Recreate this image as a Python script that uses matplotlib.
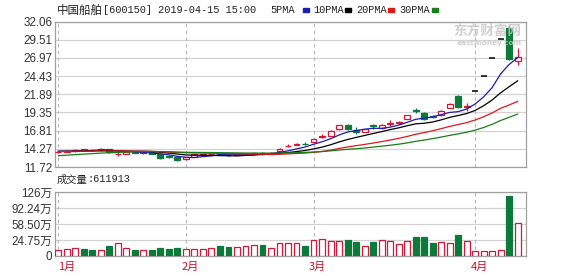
import matplotlib
matplotlib.use("Agg")
import matplotlib.pyplot as plt
import matplotlib.transforms as mtransforms
from matplotlib.patches import Rectangle
import numpy as np
import pandas as pd

# daily bars shown on the chart (Jan 2019 .. 2019-04-15), one per trading day
open_ = [13.75, 13.85, 13.90, 14.20, 14.15, 14.05, 14.25, 13.55, 13.60, 13.85,
         13.70, 13.75, 13.50, 13.20, 13.15, 12.80, 13.10, 13.45, 13.50, 13.60,
         13.45, 13.40, 13.50, 13.55, 13.65, 13.60, 14.00, 14.60, 14.85, 14.98,
         15.25, 15.95, 16.05, 17.00, 17.60, 16.88, 16.65, 17.55, 17.15, 17.80,
         17.90, 18.50, 19.65, 19.20, 18.80, 19.00, 19.95, 21.65, 20.15, 22.28,
         24.51, 26.96, 29.66, 31.20, 26.55]
high = [13.95, 14.05, 14.25, 14.30, 14.25, 14.40, 14.30, 13.75, 13.90, 13.90,
        13.85, 13.80, 13.55, 13.35, 13.20, 13.10, 13.55, 13.60, 13.65, 13.65,
        13.50, 13.55, 13.65, 13.85, 13.80, 13.75, 14.35, 14.95, 15.10, 15.15,
        15.65, 16.35, 16.85, 17.65, 17.70, 17.25, 17.10, 17.80, 17.70, 18.30,
        18.15, 19.05, 19.90, 19.35, 18.95, 19.65, 20.60, 21.80, 20.60, 22.28,
        24.51, 26.96, 29.66, 31.60, 28.35]
low = [13.65, 13.75, 13.85, 14.05, 14.00, 14.00, 13.70, 13.25, 13.55, 13.65,
       13.60, 13.55, 12.90, 13.00, 12.55, 12.70, 13.05, 13.40, 13.45, 13.35,
       13.30, 13.35, 13.45, 13.50, 13.45, 13.55, 13.95, 14.45, 14.75, 14.80,
       15.20, 15.75, 16.00, 16.95, 16.95, 16.40, 16.60, 17.10, 17.00, 17.50,
       17.75, 18.45, 19.30, 18.30, 18.55, 18.90, 19.90, 20.00, 19.60, 22.28,
       24.51, 26.96, 29.66, 26.70, 25.95]
close = [13.85, 13.95, 14.15, 14.10, 14.05, 14.30, 13.80, 13.60, 13.80, 13.70,
         13.75, 13.60, 12.95, 13.10, 12.65, 13.05, 13.50, 13.55, 13.60, 13.45,
         13.40, 13.50, 13.55, 13.62, 13.60, 13.70, 14.30, 14.68, 14.98, 14.92,
         15.60, 16.05, 16.80, 17.60, 17.00, 16.60, 17.00, 17.45, 17.55, 17.85,
         18.00, 18.95, 19.55, 18.40, 18.75, 19.55, 20.50, 20.07, 20.25, 22.28,
         24.51, 26.96, 29.66, 26.85, 27.05]
# volume, 万手
volume = [3.7, 5.1, 7.2, 5.1, 3.7, 3.7, 12.1, 19.0, 7.2, 3.7,
          3.7, 3.7, 8.5, 6.4, 8.5, 5.1, 5.1, 5.1, 8.5, 12.1,
          10.6, 10.6, 12.1, 14.2, 14.2, 7.2, 17.8, 17.8, 17.8, 12.7,
          24.7, 26.9, 23.3, 23.3, 24.7, 21.2, 12.1, 21.2, 24.7, 23.3,
          16.3, 23.3, 31.7, 31.7, 19.0, 21.2, 17.8, 35.3, 23.3, 1.5,
          1.5, 1.5, 3.7, 117.5, 61.19]
# closes before the first visible day, only used to warm up the moving averages
pre_close = [11.75, 11.85, 11.90, 12.00, 12.10, 12.20, 12.30, 12.45, 12.55, 12.70,
             13.20, 13.50, 13.70, 13.90, 14.10, 14.00, 13.80, 13.90, 14.00, 13.85,
             13.95, 14.10, 13.90, 13.80, 13.85, 13.90, 14.00, 13.95, 13.90]

ma_windows = [5, 10, 20, 30]
ma_names = ["5PMA", "10PMA", "20PMA", "30PMA"]
ma_colors = ["#1c1cb4", "#000000", "#e01818", "#1a7d1a"]

month_labels = ["1月", "2月", "3月", "4月"]
month_start = [0, 15, 30, 49]

price_tick_labels = ["11.72", "14.27", "16.81", "19.35", "21.89",
                     "24.43", "26.97", "29.51", "32.06"]
vol_tick_labels = ["0", "24.75万", "58.50万", "92.24万", "126万"]

UP = "#d6163a"
DOWN = "#0b7a3b"
GRID = "#d2d2d2"
EDGE = "#a0a0a0"
CJK = ["Liberation Sans", "Noto Sans CJK SC"]

W, H = 578, 276
fig = plt.figure(figsize=(W / 100, H / 100), dpi=100)
fig.patch.set_facecolor("white")


def fx(px):
    return px / W


def fy(py):
    return 1 - py / H


ax_p = fig.add_axes([fx(55), fy(167), fx(470.7), 145.5 / H])
ax_v = fig.add_axes([fx(55), fy(256), fx(470.7), 64 / H])

x = np.arange(len(close))
o = np.array(open_)
c = np.array(close)
up = c >= o
bw = 0.7

# candles
for i in x:
    if open_[i] == high[i] == low[i] == close[i]:
        ax_p.hlines(close[i], i - bw / 2, i + bw / 2, color="black", lw=1.1, zorder=3)
        continue
    col = UP if up[i] else DOWN
    ax_p.vlines(i, low[i], high[i], color=col, lw=0.9, zorder=2)
    bot = min(open_[i], close[i])
    ht = abs(close[i] - open_[i])
    ax_p.add_patch(Rectangle((i - bw / 2, bot), bw, ht,
                             facecolor="white" if up[i] else col,
                             edgecolor=col, lw=0.9, zorder=3))

# moving averages
allc = pd.Series(pre_close + close)
for n, col in zip(ma_windows, ma_colors):
    ma = allc.rolling(n).mean().iloc[len(pre_close):].to_numpy()
    ax_p.plot(x, ma, color=col, lw=0.9, zorder=4)

ax_p.set_xlim(-0.4, 54.95)
ax_p.set_ylim(11.72, 32.06)
ax_p.set_yticks(np.linspace(11.72, 32.06, 9))
ax_p.set_yticklabels(price_tick_labels)

# volume
for i in x:
    col = UP if up[i] else DOWN
    ax_v.add_patch(Rectangle((i - bw / 2, -9), bw, volume[i] + 9,
                             facecolor="white" if up[i] else col,
                             edgecolor=col, lw=0.9, zorder=3))
ax_v.set_xlim(-0.4, 54.95)
ax_v.set_ylim(-9, 126)
ax_v.set_yticks(np.linspace(-9, 126, 5))
ax_v.set_yticklabels(vol_tick_labels)

for ax in (ax_p, ax_v):
    ax.set_xticks([])
    ax.grid(axis="y", color=GRID, lw=0.9)
    ax.set_axisbelow(True)
    for m in month_start:
        ax.axvline(m, color="#b4b4b4", lw=0.8, ls=(0, (3, 3)), zorder=1)
    for s in ax.spines.values():
        s.set_color(EDGE)
        s.set_linewidth(0.9)
    ax.tick_params(axis="y", length=0, pad=2, labelsize=8.4, labelcolor="#333333")
    for t in ax.get_yticklabels():
        t.set_family(CJK)

trans = mtransforms.blended_transform_factory(ax_v.transData, ax_v.transAxes)
for m, lab in zip(month_start, month_labels):
    ax_v.text(max(m - 0.55, 0.0), -0.17, lab, transform=trans, ha="left", va="center",
              color="#c8102e", fontsize=8, family=["Noto Sans CJK SC"])

# header
fig.text(fx(57), fy(10), "中国船舶", fontsize=8.3, family=["Noto Sans CJK SC"],
         va="center", color="#222222")
fig.text(fx(103), fy(10), "[600150] 2019-04-15 15:00", fontsize=7.4,
         family=["Liberation Mono"], va="center", color="#222222")
name_x = [270, 313.3, 356, 399.3]
sw_x = [302.7, 345, 388, 431.7]
for nm, col, tx, sx in zip(ma_names, ma_colors, name_x, sw_x):
    fig.text(fx(tx), fy(10), nm, fontsize=7.4, family=["Liberation Mono"],
             va="center", color="#222222")
    fig.patches.append(Rectangle((fx(sx), fy(11.5)), fx(6), 3 / H, color=col,
                                 transform=fig.transFigure, figure=fig))

fig.text(fx(57), fy(179.5), "成交量", fontsize=7.4, family=["Noto Sans CJK SC"],
         va="center", color="#222222")
fig.text(fx(87), fy(179.5), ":611913", fontsize=7.4, family=["Liberation Mono"],
         va="center", color="#222222")

# watermark
fig.text(fx(453), fy(30.5), "东方财富网", fontsize=9.8, family=["Noto Sans CJK SC"],
         weight="bold", va="center", color="#c4c4c4", alpha=0.8)
fig.text(fx(457), fy(43.5), "eastmoney.com", fontsize=5.3, family=["DejaVu Sans"],
         weight="bold", va="center", color="#c4c4c4", alpha=0.8)

fig.savefig("out.png", dpi=100)
